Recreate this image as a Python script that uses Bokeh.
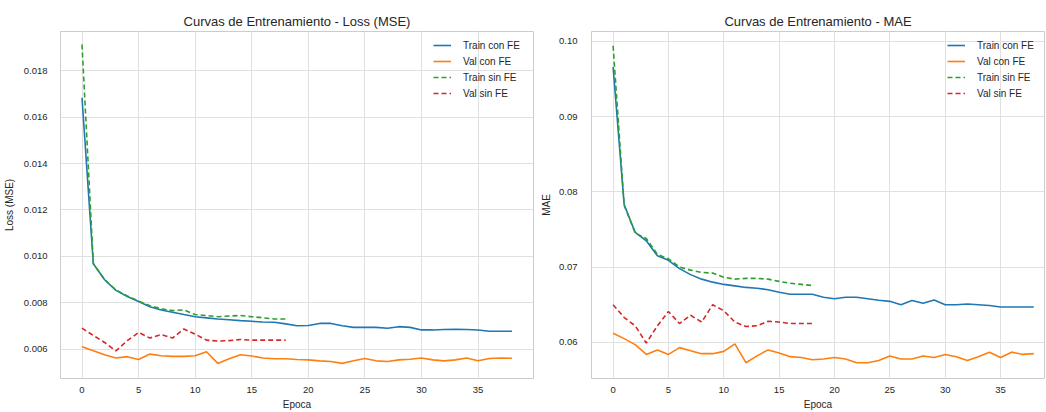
from bokeh.plotting import figure
from bokeh.models import Legend, LegendItem, PrintfTickFormatter, FixedTicker, Range1d
from bokeh.layouts import row
from bokeh.embed import file_html
from bokeh.resources import INLINE

epochs_con = list(range(39))
epochs_sin = list(range(19))
x_ticks = [0, 5, 10, 15, 20, 25, 30, 35]

loss_train_con = [0.01683, 0.00969, 0.00900, 0.00854, 0.00828, 0.00806, 0.00784, 0.00770, 0.00760, 0.00750,
                  0.00741, 0.00736, 0.00731, 0.00728, 0.00724, 0.00721, 0.00718, 0.00717, 0.00710, 0.00702,
                  0.00703, 0.00712, 0.00712, 0.00702, 0.00695, 0.00695, 0.00695, 0.00691, 0.00698, 0.00695,
                  0.00684, 0.00684, 0.00686, 0.00687, 0.00686, 0.00684, 0.00678, 0.00678, 0.00678]
loss_val_con = [0.00612, 0.00594, 0.00577, 0.00563, 0.00569, 0.00557, 0.00580, 0.00573, 0.00570, 0.00570,
                0.00573, 0.00590, 0.00540, 0.00560, 0.00577, 0.00572, 0.00563, 0.00560, 0.00560, 0.00557,
                0.00555, 0.00551, 0.00548, 0.00540, 0.00551, 0.00561, 0.00551, 0.00548, 0.00555, 0.00558,
                0.00563, 0.00555, 0.00551, 0.00555, 0.00563, 0.00551, 0.00561, 0.00563, 0.00562]
loss_train_sin = [0.01912, 0.00970, 0.00900, 0.00856, 0.00830, 0.00808, 0.00788, 0.00775, 0.00767, 0.00770,
                  0.00750, 0.00746, 0.00741, 0.00744, 0.00746, 0.00741, 0.00736, 0.00731, 0.00731]
loss_val_sin = [0.00692, 0.00660, 0.00630, 0.00594, 0.00638, 0.00673, 0.00649, 0.00664, 0.00649, 0.00688,
                0.00666, 0.00640, 0.00636, 0.00638, 0.00643, 0.00640, 0.00640, 0.00640, 0.00640]

mae_train_con = [0.0966, 0.0783, 0.0746, 0.0735, 0.0715, 0.0709, 0.0698, 0.0690, 0.0684, 0.0680,
                 0.0677, 0.0675, 0.0673, 0.0672, 0.0670, 0.06665, 0.0664, 0.0664, 0.0664, 0.0660,
                 0.0658, 0.0660, 0.0660, 0.0658, 0.0656, 0.06545, 0.0650, 0.06555, 0.0652, 0.06564,
                 0.0650, 0.0650, 0.0651, 0.0650, 0.0649, 0.0647, 0.0647, 0.0647, 0.0647]
mae_val_con = [0.0612, 0.0605, 0.0597, 0.0584, 0.0590, 0.0584, 0.0593, 0.0589, 0.0585, 0.0585,
               0.0588, 0.0598, 0.0573, 0.0582, 0.0590, 0.0586, 0.0581, 0.0580, 0.0577, 0.0578,
               0.0580, 0.0578, 0.0573, 0.0573, 0.0576, 0.0582, 0.0578, 0.0578, 0.0582, 0.0580,
               0.0584, 0.0581, 0.0576, 0.0581, 0.0587, 0.0580, 0.0587, 0.0584, 0.0585]
mae_train_sin = [0.0994, 0.0782, 0.0745, 0.0738, 0.0717, 0.0711, 0.0700, 0.0696, 0.0693, 0.0692,
                 0.06865, 0.0684, 0.0685, 0.0685, 0.0684, 0.0681, 0.06785, 0.0677, 0.06755]
mae_val_sin = [0.0650, 0.0633, 0.0622, 0.0599, 0.0622, 0.0641, 0.0625, 0.0636, 0.0627, 0.0650,
               0.0642, 0.0627, 0.0621, 0.0622, 0.0628, 0.0627, 0.0625, 0.0625, 0.0625]

loss_y_ticks = [0.006, 0.008, 0.010, 0.012, 0.014, 0.016, 0.018]
mae_y_ticks = [0.06, 0.07, 0.08, 0.09, 0.10]

labels = ["Train con FE", "Val con FE", "Train sin FE", "Val sin FE"]
colors = ["#1f77b4", "#ff7f0e", "#2ca02c", "#d62728"]

FONT = "Liberation Sans"
TXT = "#262626"
FRAME_H = 347


def make_fig(title, ylabel, yr, yticks, yfmt, xr, width, mb_left, mb_right,
             ylab_standoff, ytick_standoff, leg_x, series):
    p = figure(width=width, height=412, output_backend="svg", toolbar_location=None,
               x_range=Range1d(*xr), y_range=Range1d(*yr),
               min_border_left=mb_left, min_border_right=mb_right,
               min_border_top=31, min_border_bottom=34, title=title)
    p.title.text_font = FONT
    p.title.text_font_size = "13px"
    p.title.text_font_style = "normal"
    p.title.text_color = TXT
    p.title.align = "center"
    p.title.standoff = 6
    p.background_fill_color = "white"
    p.border_fill_color = "white"
    p.outline_line_color = "#cccccc"
    p.grid.grid_line_color = "#e0e0e0"
    p.grid.grid_line_width = 1
    p.xaxis.ticker = FixedTicker(ticks=x_ticks)
    p.yaxis.ticker = FixedTicker(ticks=yticks)
    p.yaxis.formatter = PrintfTickFormatter(format=yfmt)
    p.xaxis.axis_label = "Epoca"
    p.yaxis.axis_label = ylabel
    for ax in p.xaxis + p.yaxis:
        ax.axis_line_color = None
        ax.major_tick_line_color = None
        ax.minor_tick_line_color = None
        ax.major_label_text_font = FONT
        ax.major_label_text_font_size = "9.5px"
        ax.major_label_text_color = TXT
        ax.axis_label_text_font = FONT
        ax.axis_label_text_font_size = "10px"
        ax.axis_label_text_font_style = "normal"
        ax.axis_label_text_color = TXT
    for ax in p.xaxis:
        ax.major_label_standoff = 2
        ax.axis_label_standoff = 3
    for ax in p.yaxis:
        ax.major_label_standoff = ytick_standoff
        ax.axis_label_standoff = ylab_standoff
    items = []
    for (xs, ys, dash), lab, col in zip(series, labels, colors):
        r = p.line(xs, ys, line_color=col, line_width=1.6, line_dash=dash)
        items.append(LegendItem(label=lab, renderers=[r]))
    leg = Legend(items=items, location=(leg_x, FRAME_H - 3 - 70), label_text_font=FONT,
                 label_text_font_size="10px", label_text_color=TXT,
                 glyph_width=18, glyph_height=14, label_height=14, label_standoff=12,
                 spacing=2, padding=4, margin=0,
                 border_line_alpha=0, background_fill_alpha=0)
    p.add_layout(leg)
    return p


p1 = make_fig("Curvas de Entrenamiento - Loss (MSE)", "Loss (MSE)",
              (0.00475, 0.01968), loss_y_ticks, "%.3f", (-1.9, 39.9), 538, 57, 5,
              6, 7, 369,
              [(epochs_con, loss_train_con, "solid"), (epochs_con, loss_val_con, "solid"),
               (epochs_sin, loss_train_sin, "5 3"), (epochs_sin, loss_val_sin, "5 3")])
p2 = make_fig("Curvas de Entrenamiento - MAE", "MAE",
              (0.0552, 0.1013), mae_y_ticks, "%.2f", (-1.95, 38.97), 508, 44, 2,
              4, 8, 352,
              [(epochs_con, mae_train_con, "solid"), (epochs_con, mae_val_con, "solid"),
               (epochs_sin, mae_train_sin, "5 3"), (epochs_sin, mae_val_sin, "5 3")])

layout = row(p1, p2)
open("out.html", "w").write(file_html(layout, INLINE))
